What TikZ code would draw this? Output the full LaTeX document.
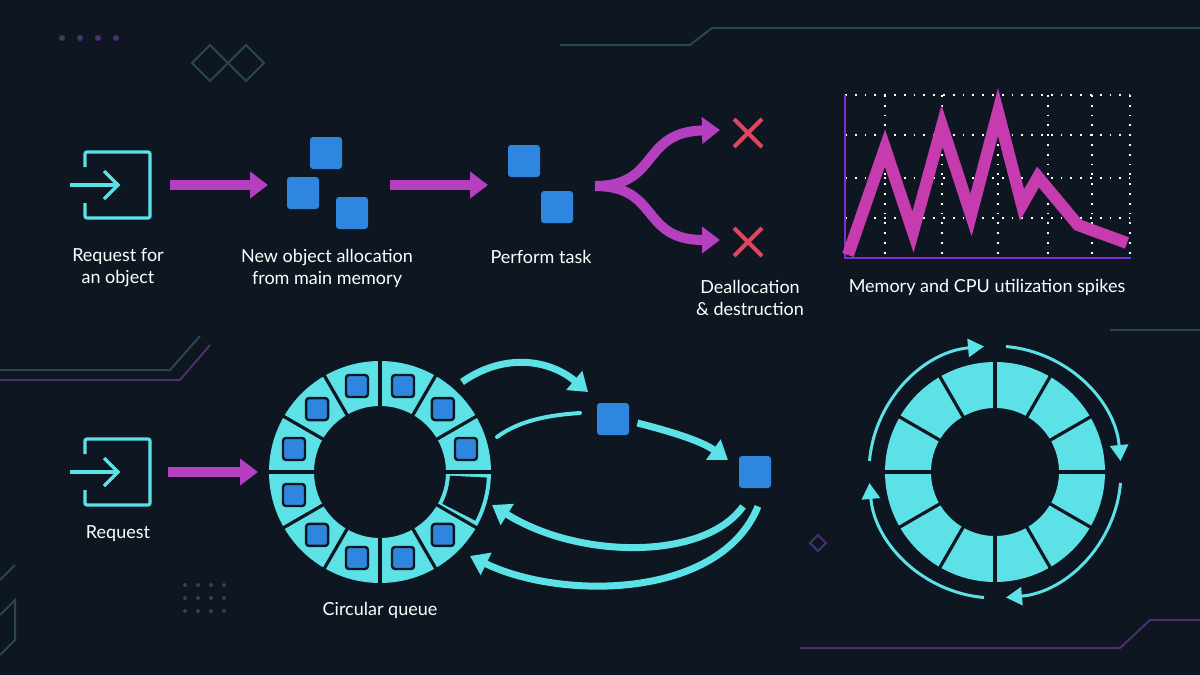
\documentclass[tikz,border=0pt]{standalone}
\usepackage{fontspec}
\setmainfont{Lato}
\usetikzlibrary{arrows.meta,calc}
\definecolor{bg}{HTML}{0E1621}
\definecolor{cy}{HTML}{5CE1E6}
\definecolor{mag}{HTML}{B43FC0}
\definecolor{pk}{HTML}{C63BAE}
\definecolor{blu}{HTML}{2F86DF}
\definecolor{xr}{HTML}{E0475E}
\definecolor{deco}{HTML}{2A4650}
\definecolor{decop}{HTML}{4B2F6E}
\tikzset{
  blk/.style={fill=blu,minimum size=16pt,inner sep=0pt,rounded corners=1.5pt},
  sblk/.style={fill=blu,draw=bg,line width=1.2pt,minimum size=11pt,inner sep=0pt,rounded corners=1.5pt},
  lbl/.style={text=white!88,font=\fontsize{9}{11}\selectfont,align=center},
  marr/.style={mag,line width=5pt,-{Triangle[length=9pt,width=13pt]}},
  carr/.style={cy,line width=3.5pt,-{Triangle[length=9pt,width=12pt]}},
  ring/.style={cy,line width=1.5pt,-{Triangle[length=8pt,width=9pt]}},
  grid/.style={white!70,line width=0.9pt,dash pattern=on 0.9pt off 4pt},
}
\newcommand{\loginicon}[1]{%
  \draw[cy,line width=1.6pt,rounded corners=1pt] ($(#1)+(-25,-18)$) -- ($(#1)+(-25,-33)$) -- ($(#1)+(40,-33)$)
    -- ($(#1)+(40,33)$) -- ($(#1)+(-25,33)$) -- ($(#1)+(-25,18)$);
  \draw[cy,line width=1.6pt] ($(#1)+(-40,0)$) -- ($(#1)+(8,0)$);
  \draw[cy,line width=1.6pt] ($(#1)+(-6,-14)$) -- ($(#1)+(8,0)$) -- ($(#1)+(-6,14)$);}
\begin{document}
\begin{tikzpicture}[x=0.5pt,y=-0.5pt]
  \fill[bg] (0,0) rectangle (1200,675);
  \useasboundingbox (0,0) rectangle (1200,675);

  % background decoration
  \fill[deco] (62,38) circle (3);
  \foreach \x in {80,98,116} \fill[decop] (\x,38) circle (3);
  \draw[deco,line width=1pt] (210,45) -- (228,63) -- (210,81) -- (192,63) -- cycle
    (228,63) -- (246,45) -- (264,63) -- (246,81) -- cycle;
  \draw[deco,line width=1pt] (560,45) -- (690,45) -- (712,28) -- (1200,28);
  \draw[decop,line width=1pt] (0,380) -- (180,380) -- (210,345);
  \draw[deco,line width=1pt] (0,370) -- (170,370) -- (200,336);
  \draw[deco,line width=1pt] (1110,330) -- (1200,330);
  \draw[decop,line width=1pt] (800,648) -- (1120,648) -- (1150,620) -- (1200,620);
  \draw[deco,line width=1pt] (0,580) -- (15,565) (0,615) -- (15,600) -- (15,640) -- (0,655);
  \foreach \x in {185,198,211,224} \foreach \y in {585,598,611} \fill[deco] (\x,\y) circle (2);
  \draw[decop,line width=1pt] (818,535) -- (826,543) -- (818,551) -- (810,543) -- cycle;

  % top row: allocation per request
  \coordinate (A) at (110,185);
  \loginicon{A}
  \node[lbl] (LA) at (118,268) {Request for\\an object};

  \node[blk] (B1) at (326,153) {};
  \node[blk] (B2) at (303,193) {};
  \node[blk] (B3) at (352,213) {};
  \node[lbl] (LB) at (327,268) {New object allocation\\from main memory};

  \node[blk] (C1) at (524,161) {};
  \node[blk] (C2) at (557,207) {};
  \node[lbl] (LC) at (541,257) {Perform task};

  \node (D1) at (748,133) {};
  \node (D2) at (748,242) {};
  \foreach \n in {D1,D2}
    \draw[xr,line width=2pt] ($(\n)+(-14,-14)$) -- ($(\n)+(14,14)$) ($(\n)+(-14,14)$) -- ($(\n)+(14,-14)$);
  \node[lbl] (LD) at (750,298) {Deallocation\\\& destruction};

  \coordinate (A1) at (170,185);
  \coordinate (A2) at (268,185);
  \coordinate (B4) at (390,185);
  \coordinate (B5) at (488,185);
  \coordinate (F) at (595,186);
  \draw[marr] (A1) -- (A2);
  \draw[marr] (B4) -- (B5);
  \draw[marr] (F) .. controls (660,186) and (640,132) .. (720,130);
  \draw[marr] (F) .. controls (660,186) and (640,240) .. (720,240);

  % chart
  \foreach \x in {885,942,998,1048,1092,1130}
    \draw[grid] (\x,95) -- (\x,258);
  \foreach \y in {95,135,178,218}
    \draw[grid] (845,\y) -- (1130,\y);
  \draw[mag!70!blue,line width=1.2pt] (845,95) -- (845,258) -- (1131,258);
  \draw[pk,line width=6pt,line join=miter] (848,255) -- (885,148) -- (913,232) -- (942,126)
    -- (971,215) -- (998,112) -- (1022,205) -- (1038,177) -- (1078,225) -- (1127,243);
  \node[lbl] (LE) at (987,287) {Memory and CPU utilization spikes};

  % bottom row: circular queue
  \coordinate (G) at (110,472);
  \loginicon{G}
  \node[lbl] (LG) at (118,534) {Request};
  \coordinate (G1) at (168,472);
  \coordinate (G2) at (258,472);
  \draw[marr] (G1) -- (G2);

  \begin{scope}[shift={(380,472)}]
    \fill[cy,even odd rule] (0,0) circle (111) (0,0) circle (66);
    \foreach \a in {0,30,...,330} \draw[bg,line width=1.6pt] (\a:64) -- (\a:113);
    \fill[bg] (3:70) arc[start angle=3,end angle=27,radius=70] -- (27:107)
      arc[start angle=27,end angle=3,radius=107] -- cycle;
    \foreach \a in {45,75,...,345}
      \node[sblk] at (\a:89) {};
  \end{scope}
  \node (Q) at (380,472) {};
  \node[lbl] (LQ) at (380,610) {Circular queue};

  \node[blk] (H1) at (613,419) {};
  \node[blk] (H2) at (755,472) {};
  \draw[carr] (462,382) .. controls (505,352) and (550,360) .. (588,392);
  \draw[cy,line width=2pt,line cap=round] (497,437) .. controls (520,420) and (550,415) .. (580,413);
  \draw[carr] (H1.east) ++(8,4) .. controls (665,430) and (700,440) .. (728,460);
  \draw[carr] (H2.south) ++(-12,18) .. controls (705,560) and (580,560) .. (492,505);
  \draw[carr] (H2.south) ++(3,18) .. controls (720,600) and (560,600) .. (470,556);

  % right: rotating buffer
  \begin{scope}[shift={(995,472)}]
    \fill[cy,even odd rule] (0,0) circle (110) (0,0) circle (64);
    \foreach \a in {0,30,...,330} \draw[bg,line width=1.6pt] (\a:62) -- (\a:112);
    \foreach \a in {185,275,5,95}
      \draw[ring] (\a:126) arc[start angle=\a,end angle=\a+80,radius=126];
  \end{scope}
\end{tikzpicture}
\end{document}
